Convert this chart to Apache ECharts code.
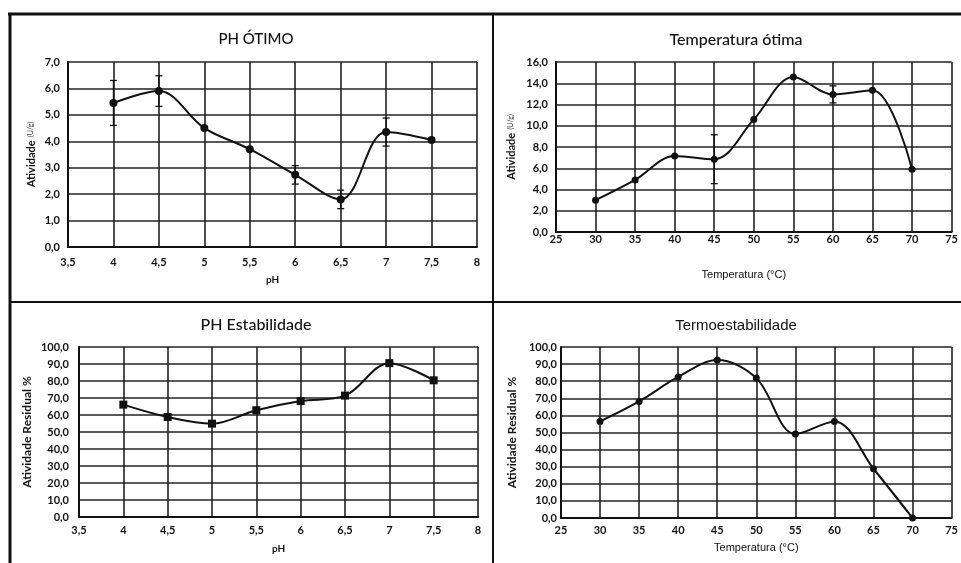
<!DOCTYPE html>
<html>
<head>
<meta charset="utf-8">
<script src="https://cdn.jsdelivr.net/npm/echarts@6/dist/echarts.min.js"></script>
<style>html,body{margin:0;padding:0;background:#fff}#c{width:961px;height:563px}</style>
</head>
<body>
<div id="c"></div>
<script>
// ---- data ----
const phX = [4, 4.5, 5, 5.5, 6, 6.5, 7, 7.5];
const phOtimoY = [5.45, 5.9, 4.5, 3.7, 2.73, 1.8, 4.35, 4.05];
const phOtimoErr = [0.85, 0.58, 0, 0, 0.35, 0.35, 0.53, 0];
const tempX = [30, 35, 40, 45, 50, 55, 60, 65, 70];
const tempOtimaY = [3.0, 4.9, 7.15, 6.85, 10.6, 14.6, 12.95, 13.35, 5.9];
const tempOtimaErr = [0, 0, 0, 2.3, 0, 0, 0.8, 0, 0];
const phEstY = [66.1, 58.8, 54.9, 62.8, 68.2, 71.4, 90.5, 80.4];
const termoY = [56.5, 68.2, 82.5, 92.4, 81.8, 49.1, 56.5, 28.8, 0];
const titles = ['PH ÓTIMO', 'Temperatura ótima', 'PH Estabilidade', 'Termoestabilidade'];

const chart = echarts.init(document.getElementById('c'));
const gridColor = '#222';
const labFont = 'Lato, "Open Sans", sans-serif';
const yFmt = v => v.toFixed(1).replace('.', ',');
const xFmt = v => String(v).replace('.', ',');

function xAxis(idx, min, max, interval, name, gap, margin, nameStyle) {
  return {
    type: 'value', gridIndex: idx, min, max, interval,
    name, nameLocation: 'middle', nameGap: gap,
    nameTextStyle: nameStyle,
    axisLine: { show: true, lineStyle: { color: '#111', width: 2 } },
    axisTick: { show: false },
    axisLabel: { formatter: xFmt, margin, color: '#111', fontWeight: 'bold', fontSize: 11, fontFamily: labFont, showMinLabel: true, showMaxLabel: true },
    splitLine: { show: true, lineStyle: { color: gridColor, width: 1.6 } }
  };
}
function yAxis(idx, min, max, interval, nameRich, gap, margin) {
  return {
    type: 'value', gridIndex: idx, min, max, interval,
    name: nameRich.text, nameLocation: 'middle', nameGap: gap,
    nameTextStyle: nameRich.style,
    axisLine: { show: true, lineStyle: { color: '#111', width: 2 } },
    axisTick: { show: false },
    axisLabel: { formatter: yFmt, margin, color: '#111', fontWeight: 'bold', fontSize: 11, fontFamily: labFont, showMinLabel: true, showMaxLabel: true },
    splitLine: { show: true, lineStyle: { color: gridColor, width: 1.6 } }
  };
}
const atividadeName = {
  text: '{a|Atividade} {b|(U/g)}',
  style: { rich: { a: { fontWeight: 'bold', fontSize: 11, fontFamily: labFont, color: '#111' }, b: { fontSize: 7, fontFamily: labFont, color: '#333' } } }
};
const residualName = {
  text: 'Atividade Residual %',
  style: { fontWeight: 'bold', fontSize: 12, fontFamily: labFont, color: '#111' }
};
const phNameStyle = { fontWeight: 'bold', fontSize: 10, fontFamily: labFont, color: '#111' };
const tempNameStyle = { fontSize: 11, fontFamily: '"Liberation Sans", Arial, sans-serif', color: '#111' };

function lineSeries(idx, xs, ys, symbol, size) {
  return {
    type: 'line', xAxisIndex: idx, yAxisIndex: idx,
    data: xs.map((x, i) => [x, ys[i]]),
    smooth: 0.35, symbol, symbolSize: size, showSymbol: true,
    lineStyle: { color: '#111', width: 2 },
    itemStyle: { color: '#111' },
    z: 5
  };
}
function errSeries(idx, xs, ys, es) {
  return {
    type: 'custom', xAxisIndex: idx, yAxisIndex: idx,
    data: xs.map((x, i) => [x, ys[i], es[i]]),
    renderItem: (params, api) => {
      const x = api.value(0), y = api.value(1), e = api.value(2);
      if (!e) return null;
      const t = api.coord([x, y + e]), b = api.coord([x, y - e]);
      const st = { stroke: '#111', lineWidth: 1.3 };
      return {
        type: 'group', children: [
          { type: 'line', shape: { x1: t[0], y1: t[1], x2: b[0], y2: b[1] }, style: st },
          { type: 'line', shape: { x1: t[0] - 3.5, y1: t[1], x2: t[0] + 3.5, y2: t[1] }, style: st },
          { type: 'line', shape: { x1: b[0] - 3.5, y1: b[1], x2: b[0] + 3.5, y2: b[1] }, style: st }
        ]
      };
    },
    z: 4
  };
}

const titleFont = 'Lato, "Open Sans", sans-serif';
const tStyle = { fontSize: 16, fontWeight: 500, fontFamily: titleFont, color: '#111' };
const option = {
  animation: false,
  backgroundColor: '#fff',
  title: [
    { text: titles[0], left: 251, top: 27, textAlign: 'center', textStyle: Object.assign({}, tStyle, { fontSize: 15 }) },
    { text: titles[1], left: 731, top: 27, textAlign: 'center', textStyle: tStyle },
    { text: titles[2], left: 251, top: 312, textAlign: 'center', textStyle: tStyle },
    { text: titles[3], left: 731, top: 313, textAlign: 'center', textStyle: { fontSize: 15, fontWeight: 'normal', fontFamily: '"Liberation Sans", Arial, sans-serif', color: '#111' } }
  ],
  grid: [
    { left: 68, top: 62, width: 409, height: 185 },
    { left: 556, top: 62, width: 398, height: 170 },
    { left: 79, top: 347, width: 399, height: 170 },
    { left: 561, top: 347, width: 393, height: 171 }
  ],
  xAxis: [
    xAxis(0, 3.5, 8, 0.5, 'pH', 28, 10, phNameStyle),
    xAxis(1, 25, 75, 5, 'Temperatura (°C)', 37, 2, Object.assign({ padding: [0, 20, 0, 0] }, tempNameStyle)),
    xAxis(2, 3.5, 8, 0.5, 'pH', 27, 8, phNameStyle),
    xAxis(3, 25, 75, 5, 'Temperatura (°C)', 24, 7, tempNameStyle)
  ],
  yAxis: [
    yAxis(0, 0, 7, 1, atividadeName, 31, 8),
    yAxis(1, 0, 16, 2, atividadeName, 39, 8),
    yAxis(2, 0, 100, 10, residualName, 46, 10),
    yAxis(3, 0, 100, 10, residualName, 43, 4)
  ],
  series: [
    errSeries(0, phX, phOtimoY, phOtimoErr),
    lineSeries(0, phX, phOtimoY, 'circle', 8),
    errSeries(1, tempX, tempOtimaY, tempOtimaErr),
    lineSeries(1, tempX, tempOtimaY, 'circle', 7),
    lineSeries(2, phX, phEstY, 'rect', 8),
    lineSeries(3, tempX, termoY, 'circle', 7)
  ],
  graphic: [
    { type: 'line', shape: { x1: 8, y1: 14, x2: 961, y2: 14 }, style: { stroke: '#111', lineWidth: 3 }, z: 100 },
    { type: 'line', shape: { x1: 10, y1: 14, x2: 10, y2: 563 }, style: { stroke: '#111', lineWidth: 3 }, z: 100 },
    { type: 'line', shape: { x1: 493, y1: 14, x2: 493, y2: 563 }, style: { stroke: '#111', lineWidth: 2 }, z: 100 },
    { type: 'line', shape: { x1: 10, y1: 302, x2: 961, y2: 302 }, style: { stroke: '#111', lineWidth: 2 }, z: 100 }
  ]
};
chart.setOption(option);
</script>
</body>
</html>
